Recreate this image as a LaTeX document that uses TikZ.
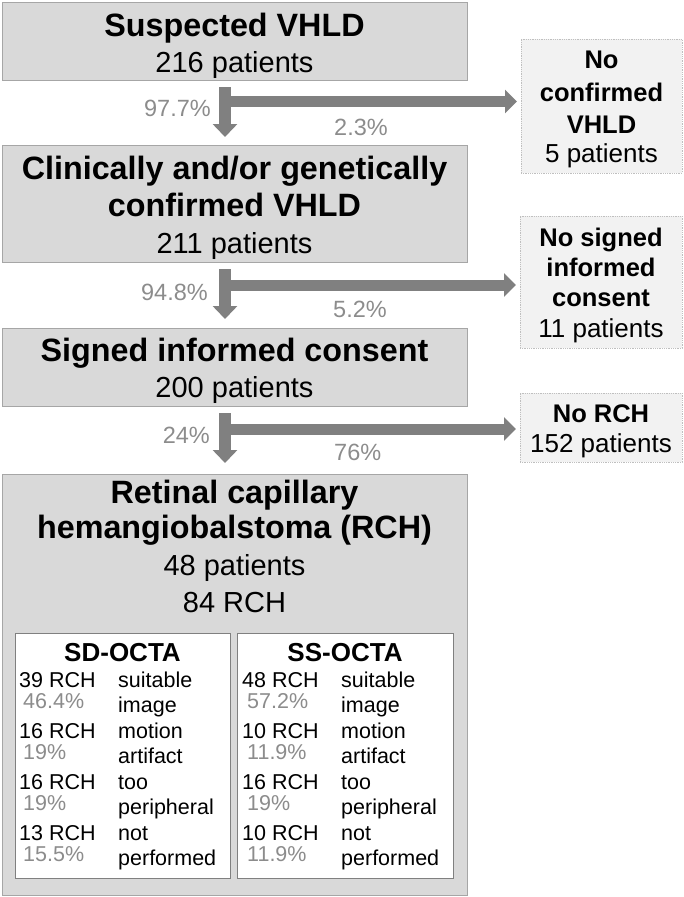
\documentclass[tikz,border=0pt]{standalone}
\usepackage{fontspec}
\setmainfont{Liberation Sans}
\usetikzlibrary{arrows.meta,calc}
\definecolor{boxfill}{HTML}{D9D9D9}
\definecolor{boxline}{HTML}{A6A6A6}
\definecolor{sidefill}{HTML}{F2F2F2}
\definecolor{sideline}{HTML}{BFBFBF}
\definecolor{arrowgray}{HTML}{808080}
\definecolor{pctgray}{HTML}{8C8C8C}
\begin{document}
\begin{tikzpicture}[x=1pt,y=-1pt,
  mainbox/.style={draw=boxline, fill=boxfill, line width=1pt, inner sep=0pt, outer sep=0pt},
  sidebox/.style={draw=sideline, densely dotted, fill=sidefill, line width=0.8pt, inner sep=0pt, outer sep=0pt},
  innerbox/.style={draw=arrowgray, fill=white, line width=1pt, inner sep=0pt, outer sep=0pt},
  tb/.style={font=\fontsize{32.3}{38}\selectfont\bfseries, anchor=base, inner sep=0pt},
  tn/.style={font=\fontsize{29}{34}\selectfont, anchor=base, inner sep=0pt},
  sb/.style={font=\fontsize{25.5}{30}\selectfont\bfseries, anchor=base, inner sep=0pt},
  sn/.style={font=\fontsize{26}{30}\selectfont, anchor=base, inner sep=0pt},
  pctl/.style={font=\fontsize{23.5}{28}\selectfont, text=pctgray, inner sep=0pt},
  ib/.style={font=\fontsize{26}{30}\selectfont\bfseries, anchor=base, inner sep=0pt},
  it/.style={font=\fontsize{21.5}{25}\selectfont, anchor=base west, inner sep=0pt},
  ip/.style={font=\fontsize{21.5}{25}\selectfont, text=pctgray, anchor=base west, inner sep=0pt},
  vflow/.style={draw=arrowgray, line width=12pt, -{Triangle[width=24pt,length=13pt]}},
  hflow/.style={draw=arrowgray, line width=11pt, -{Triangle[width=23pt,length=12pt]}}
]
\useasboundingbox (0,0) rectangle (683,897);

% main boxes
\node[mainbox, minimum width=465pt, minimum height=78pt] (b1) at (234.5,41) {};
\node[mainbox, minimum width=465pt, minimum height=117pt] (b2) at (234.5,203.5) {};
\node[mainbox, minimum width=465pt, minimum height=78pt] (b3) at (234.5,367) {};
\node[mainbox, minimum width=465pt, minimum height=421pt] (b4) at (234.5,684.5) {};

% side boxes
\node[sidebox, minimum width=161pt, minimum height=134pt] (s1) at (601.5,106) {};
\node[sidebox, minimum width=162pt, minimum height=132pt] (s2) at (601,282) {};
\node[sidebox, minimum width=162pt, minimum height=69pt] (s3) at (601,427.5) {};

% inner boxes
\node[innerbox, minimum width=215pt, minimum height=245pt] (sd) at (122.5,755.5) {};
\node[innerbox, minimum width=216pt, minimum height=245pt] (ss) at (345,755.5) {};

% main box texts
\node[tb] (t1a) at (234.5,36.5) {Suspected VHLD};
\node[tn] (t1b) at (234.5,72) {216 patients};
\node[tb] (t2a) at (234.5,179.5) {Clinically and/or genetically};
\node[tb] (t2b) at (234.5,216.5) {confirmed VHLD};
\node[tn] (t2c) at (234.5,253) {211 patients};
\node[tb] (t3a) at (234.5,361.5) {Signed informed consent};
\node[tn] (t3b) at (234.5,397) {200 patients};
\node[tb] (t4a) at (234.5,503.5) {Retinal capillary};
\node[tb] (t4b) at (234.5,538.5) {hemangiobalstoma (RCH)};
\node[tn] (t4c) at (234.5,575) {48 patients};
\node[tn] (t4d) at (234.5,612) {84 RCH};

% side box texts
\node[sb] (u1a) at (601.5,68.5) {No};
\node[sb] (u1b) at (601.5,101) {confirmed};
\node[sb] (u1c) at (601.5,133.5) {VHLD};
\node[sn] (u1d) at (601.5,162) {5 patients};
\node[sb] (u2a) at (601,246) {No signed};
\node[sb] (u2b) at (601,276.5) {informed};
\node[sb] (u2c) at (601,306.5) {consent};
\node[sn] (u2d) at (601,337) {11 patients};
\node[sb] (u3a) at (601,422) {No RCH};
\node[sn] (u3b) at (601,452) {152 patients};

% arrows
\draw[vflow] ([xshift=-9.5pt,yshift=-7pt]b1.south) -- ([xshift=-9.5pt,yshift=8pt]b2.north);
\draw[vflow] ([xshift=-9.5pt,yshift=-7pt]b2.south) -- ([xshift=-9.5pt,yshift=9pt]b3.north);
\draw[vflow] ([xshift=-9.5pt,yshift=-7pt]b3.south) -- ([xshift=-9.5pt,yshift=11pt]b4.north);
\coordinate (j1) at (219,101.5);
\coordinate (j2) at (219,285);
\coordinate (j3) at (219,429);
\draw[hflow] (j1) -- ($(j1 -| s1.west)+(-4,0)$);
\draw[hflow] (j2) -- ($(j2 -| s2.west)+(-4,0)$);
\draw[hflow] (j3) -- ($(j3 -| s3.west)+(-4,0)$);

% percentages
\node[pctl, anchor=base east] (p1a) at (211,116) {97.7\%};
\node[pctl, anchor=base west] (p1b) at (334,135) {2.3\%};
\node[pctl, anchor=base east] (p2a) at (208,300.5) {94.8\%};
\node[pctl, anchor=base west] (p2b) at (333,317.5) {5.2\%};
\node[pctl, anchor=base east] (p3a) at (210,443.5) {24\%};
\node[pctl, anchor=base west] (p3b) at (334,460.5) {76\%};

% inner box headers
\node[ib] (h1) at (122.5,661) {SD-OCTA};
\node[ib] (h2) at (345,661) {SS-OCTA};

% SD-OCTA rows
\node[it] (a1n) at (19,687) {39 RCH};
\node[ip] (a1p) at (23,708) {46.4\%};
\node[it] (a1r) at (118,687) {suitable};
\node[it] (a1s) at (118,712) {image};
\node[it] (a2n) at (19,738.3) {16 RCH};
\node[ip] (a2p) at (23,759.3) {19\%};
\node[it] (a2r) at (118,738.3) {motion};
\node[it] (a2s) at (118,763.3) {artifact};
\node[it] (a3n) at (19,789.6) {16 RCH};
\node[ip] (a3p) at (23,810.6) {19\%};
\node[it] (a3r) at (118,789.6) {too};
\node[it] (a3s) at (118,814.6) {peripheral};
\node[it] (a4n) at (19,840.9) {13 RCH};
\node[ip] (a4p) at (23,861.9) {15.5\%};
\node[it] (a4r) at (118,840.9) {not};
\node[it] (a4s) at (118,865.9) {performed};

% SS-OCTA rows
\node[it] (b1n) at (242,687) {48 RCH};
\node[ip] (b1p) at (247,708) {57.2\%};
\node[it] (b1r) at (341,687) {suitable};
\node[it] (b1s) at (341,712) {image};
\node[it] (b2n) at (242,738.3) {10 RCH};
\node[ip] (b2p) at (247,759.3) {11.9\%};
\node[it] (b2r) at (341,738.3) {motion};
\node[it] (b2s) at (341,763.3) {artifact};
\node[it] (b3n) at (242,789.6) {16 RCH};
\node[ip] (b3p) at (247,810.6) {19\%};
\node[it] (b3r) at (341,789.6) {too};
\node[it] (b3s) at (341,814.6) {peripheral};
\node[it] (b4n) at (242,840.9) {10 RCH};
\node[ip] (b4p) at (247,861.9) {11.9\%};
\node[it] (b4r) at (341,840.9) {not};
\node[it] (b4s) at (341,865.9) {performed};
\end{tikzpicture}
\end{document}
